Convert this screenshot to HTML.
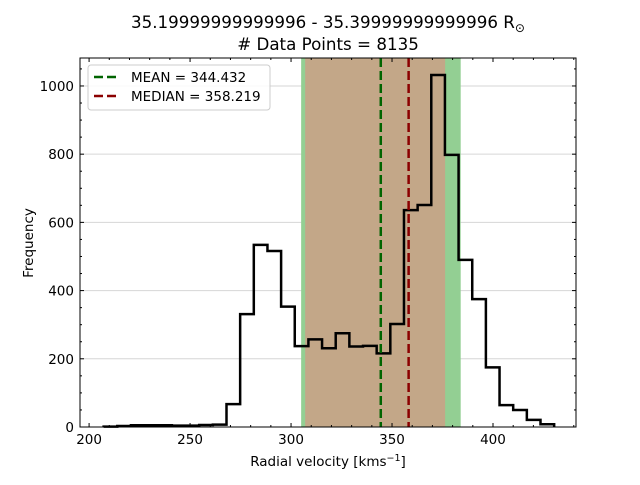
<!DOCTYPE html>
<html><head><meta charset="utf-8"><style>
body{margin:0;background:#fff;}
svg{font-family:"DejaVu Sans","Liberation Sans",sans-serif;}
</style></head><body>
<svg id="chart" width="640" height="480" viewBox="0 0 640 480" xmlns="http://www.w3.org/2000/svg">
<rect width="640" height="480" fill="#fff"/>
<text x="328" y="28" text-anchor="middle" font-size="16.7">35.19999999999996 - 35.39999999999996 R<tspan font-size="12" dy="4">⊙</tspan></text>
<text x="328" y="50" text-anchor="middle" font-size="16.7"># Data Points = 8135</text>
<g id="plot"></g>
<text x="328" y="466" text-anchor="middle" font-size="13.5">Radial velocity [kms<tspan font-size="9.5" dy="-5">−1</tspan><tspan dy="5">]</tspan></text>
<text x="0" y="0" transform="translate(33,243) rotate(-90)" text-anchor="middle" font-size="13.5">Frequency</text>
</svg>
<script>
const binStart = 207.2;
const binWidth = 6.76;
const counts = [1,3,5,5,5,4,4,6,7,67,331,534,516,353,237,257,231,275,236,238,216,302,636,651,1032,798,490,375,175,64,50,21,8];
const xTicks = [200,250,300,350,400];
const yTicks = [0,200,400,600,800,1000];
const meanVal = 344.432;
const medianVal = 358.219;
const outerSpan = [305.0, 384.0];
const innerSpan = [307.0, 376.3];

const L=80,R=576,T=58,B=427;
const xmin=195.5,xmax=441.1,ymin=0,ymax=1082;
const X=v=>L+(v-xmin)/(xmax-xmin)*(R-L);
const Y=v=>B-(v-ymin)/(ymax-ymin)*(B-T);
const NS="http://www.w3.org/2000/svg";
const g=document.getElementById('plot');
function mk(tag,attrs){const e=document.createElementNS(NS,tag);for(const k in attrs)e.setAttribute(k,attrs[k]);g.appendChild(e);return e;}

// grid
yTicks.forEach(t=>{
  const e=mk('line',{x1:L,x2:R,y1:Y(t),y2:Y(t),stroke:'#d6d6d6','stroke-width':1});
  
  
});
// spans
let s1=mk('rect',{x:X(outerSpan[0]),y:T,width:X(outerSpan[1])-X(outerSpan[0]),height:B-T,fill:'#93cf93'});


let s2=mk('rect',{x:X(innerSpan[0]),y:T,width:X(innerSpan[1])-X(innerSpan[0]),height:B-T,fill:'#c3a788'});


// histogram
let d='M'+X(binStart)+','+Y(0);
counts.forEach((c,i)=>{
  const x0=X(binStart+i*binWidth),x1=X(binStart+(i+1)*binWidth);
  d+=' L'+x0+','+Y(c)+' L'+x1+','+Y(c);
});
d+=' L'+X(binStart+counts.length*binWidth)+','+Y(0);
let h=mk('path',{d:d,fill:'none',stroke:'#000','stroke-width':2.5,'stroke-linejoin':'miter'});


// mean/median lines
let ml=mk('line',{x1:X(meanVal),x2:X(meanVal),y1:T,y2:B,stroke:'#006400','stroke-width':2.5,'stroke-dasharray':'9,4'});


let dl=mk('line',{x1:X(medianVal),x2:X(medianVal),y1:T,y2:B,stroke:'#8b0000','stroke-width':2.5,'stroke-dasharray':'9,4'});


// frame
let fr=mk('rect',{x:L,y:T,width:R-L,height:B-T,fill:'none',stroke:'#000','stroke-width':1});


// ticks
for(let v=200;v<=440;v+=10){
  const major=v%50===0,len=major?4:2;
  [[B,-1],[T,1]].forEach(([yy,s])=>{
    const e=mk('line',{x1:X(v),x2:X(v),y1:yy,y2:yy+s*len,stroke:'#000','stroke-width':1});
    
    
  });
}
for(let v=0;v<=1050;v+=50){
  const major=v%200===0,len=major?4:2;
  [[L,1],[R,-1]].forEach(([xx,s])=>{
    const e=mk('line',{x1:xx,x2:xx+s*len,y1:Y(v),y2:Y(v),stroke:'#000','stroke-width':1});
    
    
  });
}
xTicks.forEach(t=>{
  const e=mk('text',{x:X(t),y:B+17,'text-anchor':'middle','font-size':13.5});
  e.textContent=t;
  
  
});
yTicks.forEach(t=>{
  const e=mk('text',{x:L-6,y:Y(t)+5,'text-anchor':'end','font-size':13.5});
  e.textContent=t;
  
  
});
// legend
let lb=mk('rect',{x:88,y:65,width:182,height:45,rx:3,fill:'#fff','fill-opacity':0.85,stroke:'#ccc'});


[['MEAN = 344.432','#006400',79],['MEDIAN = 358.219','#8b0000',98]].forEach(([t,c,y],i)=>{
  const l=mk('line',{x1:94,x2:118,y1:y-2,y2:y-2,stroke:c,'stroke-width':2.5,'stroke-dasharray':'9,4'});
  
  
  const e=mk('text',{x:131,y:y+3,'font-size':13.5});
  e.textContent=t;
  
  
});
</script>
</body></html>
